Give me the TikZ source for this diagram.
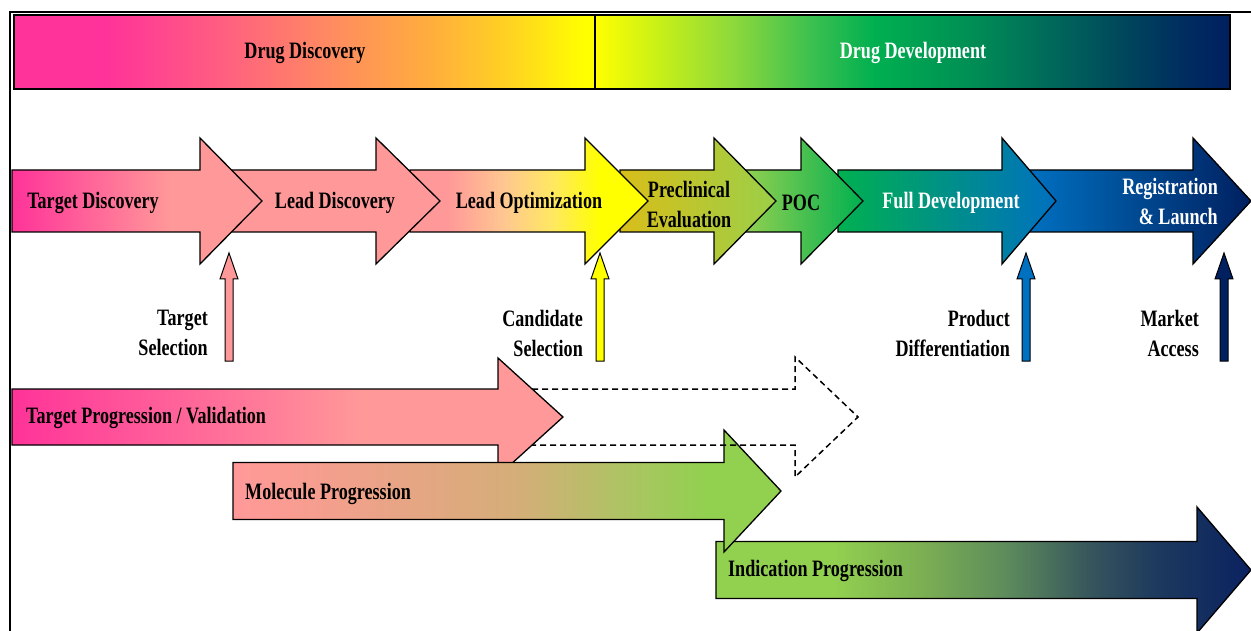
\documentclass[tikz,border=0pt]{standalone}
\usepackage{fontspec}
\setmainfont{Liberation Serif}[FakeStretch=0.77]
\usetikzlibrary{positioning}

\definecolor{hotpink}{HTML}{FF3399}
\definecolor{salmon}{HTML}{FF9999}
\definecolor{yell}{HTML}{FFFF00}
\definecolor{lgreen}{HTML}{92D050}
\definecolor{grn}{HTML}{00B050}
\definecolor{blu}{HTML}{0070C0}
\definecolor{navy}{HTML}{002060}
\definecolor{gold}{HTML}{D8BE1A}
\definecolor{ygreen}{HTML}{9BCF48}

\definecolor{d1}{HTML}{FF5F80}
\definecolor{d2}{HTML}{FF8A62}
\definecolor{d3}{HTML}{FFAE3C}
\definecolor{d4}{HTML}{FFD520}
\definecolor{e1}{HTML}{C8F018}
\definecolor{e2}{HTML}{8CD83C}
\definecolor{e3}{HTML}{3CC050}
\definecolor{e4}{HTML}{008C55}
\definecolor{e5}{HTML}{00685A}
\definecolor{e6}{HTML}{00445C}
\definecolor{e7}{HTML}{002A60}
\definecolor{o1}{HTML}{FFC890}
\definecolor{o2}{HTML}{FFE860}
\definecolor{m1}{HTML}{FA9C92}
\definecolor{m2}{HTML}{D4AE78}
\definecolor{m3}{HTML}{A8C660}
\definecolor{i1}{HTML}{7CB052}
\definecolor{i2}{HTML}{5E8C5C}
\definecolor{i3}{HTML}{36555C}
\definecolor{i4}{HTML}{1E3A5E}
\definecolor{i5}{HTML}{0A2260}

\pgfdeclarehorizontalshading{discovery}{100bp}{color(0bp)=(hotpink); color(25bp)=(hotpink);
  color(33bp)=(hotpink); color(43bp)=(d1); color(52bp)=(d2); color(61bp)=(d3);
  color(68bp)=(d4); color(74bp)=(yell); color(100bp)=(yell)}
\pgfdeclarehorizontalshading{development}{100bp}{color(0bp)=(yell); color(25bp)=(yell);
  color(30bp)=(e1); color(36bp)=(e2); color(42bp)=(e3); color(47bp)=(grn); color(55bp)=(e4);
  color(61bp)=(e5); color(67bp)=(e6); color(72bp)=(e7); color(75bp)=(navy); color(100bp)=(navy)}
\pgfdeclarehorizontalshading{pinksalmon}{100bp}{color(0bp)=(hotpink); color(25bp)=(hotpink);
  color(57bp)=(salmon); color(100bp)=(salmon)}
\pgfdeclarehorizontalshading{salmonyellow}{100bp}{color(0bp)=(salmon); color(33bp)=(salmon);
  color(45bp)=(o1); color(55bp)=(o2); color(65bp)=(yell); color(100bp)=(yell)}
\pgfdeclarehorizontalshading{molecule}{100bp}{color(0bp)=(salmon); color(25bp)=(salmon);
  color(30bp)=(m1); color(51bp)=(m2); color(62bp)=(m3); color(68bp)=(lgreen); color(100bp)=(lgreen)}
\pgfdeclarehorizontalshading{indication}{100bp}{color(0bp)=(lgreen); color(36bp)=(lgreen);
  color(44bp)=(i1); color(52bp)=(i2); color(60bp)=(i3); color(66bp)=(i4); color(75bp)=(i5);
  color(100bp)=(i5)}

% block arrow: [style]{x start}{head base}{tip}{y centre}{body half}{head half}
\newcommand{\blockarrow}[7][]{%
  \draw[blk,#1] (#2,{#5-#6}) -- (#3,{#5-#6}) -- (#3,{#5-#7}) -- (#4,#5)
    -- (#3,{#5+#7}) -- (#3,{#5+#6}) -- (#2,{#5+#6}) -- cycle;}
% thin upward milestone arrow: {colour}{x}
\newcommand{\milestone}[2]{%
  \draw[blk,line width=1pt,fill=#1] ({#2-4},361) -- ({#2-4},279) -- ({#2-9},279) -- (#2,253)
    -- ({#2+9},279) -- ({#2+4},279) -- ({#2+4},361) -- cycle;}

\begin{document}
\begin{tikzpicture}[x=1pt,y=-1pt,line join=miter]
	\tikzstyle{blk}=[draw=black,line width=1.3pt]
	\tikzstyle{lbl}=[inner sep=0pt,font=\fontsize{23.5}{30}\selectfont\bfseries]
	\useasboundingbox (0,0) rectangle (1251,631);

	% frame and phase bar
	\draw[line width=2pt] (10,631) -- (10,12) -- (1251,12);
	\draw[line width=2.5pt,shade,shading=discovery] (14,15) rectangle (595,89);
	\draw[line width=2.5pt,shade,shading=development] (595,15) rectangle (1230,89);
	\node[lbl] (disc) at (305,53) {Drug Discovery};
	\node[lbl,text=white] (dev) at (913,53) {Drug Development};

	% stages, right to left so each head lies on the next body
	\blockarrow[left color=blu,right color=navy]{1030}{1193}{1251}{201}{31}{63}
	\blockarrow[left color=grn,right color=blu]{838}{1002}{1056}{201}{31}{63}
	\blockarrow[left color=lgreen,right color=grn]{745}{801}{863}{201}{31}{63}
	\blockarrow[left color=gold,right color=ygreen]{620}{714}{776}{201}{31}{63}
	\blockarrow[shade,shading=salmonyellow]{410}{585}{648}{201}{31}{63}
	\blockarrow[fill=salmon]{232}{376}{440}{201}{31}{63}
	\blockarrow[shade,shading=pinksalmon]{12}{200}{262}{201}{31}{63}

	\node[lbl] (tdisc) at (93,203) {Target Discovery};
	\node[lbl] (ldisc) at (335,203) {Lead Discovery};
	\node[lbl] (lopt) at (529,203) {Lead Optimization};
	\node[lbl,align=center] (precl) at (689,204) {Preclinical\\Evaluation};
	\node[lbl] (poc) at (801,203) {POC};
	\node[lbl,text=white] (fdev) at (951,203) {Full Development};
	\node[lbl,text=white,align=right,anchor=east] (reg) at (1218,201) {Registration\\\& Launch};

	% milestones
	\milestone{salmon}{229}
	\milestone{yell}{600}
	\milestone{blu}{1026}
	\milestone{navy}{1224}
	\node[lbl,align=right,anchor=east] (tsel) at (208,333) {Target\\Selection};
	\node[lbl,align=right,anchor=east] (csel) at (583,333) {Candidate\\Selection};
	\node[lbl,align=right,anchor=east] (pdiff) at (1010,333) {Product\\Differentiation};
	\node[lbl,align=right,anchor=east] (macc) at (1199,333) {Market\\Access};

	% progressions
	\blockarrow[shade,shading=pinksalmon]{12}{498}{563}{417}{28}{59}
	\blockarrow[shade,shading=indication]{716}{1197}{1251}{570}{28.5}{63}
	\blockarrow[shade,shading=molecule]{233}{724}{781}{491}{28.5}{61}
	\draw[line width=1.5pt,dash pattern=on 6pt off 4pt] (532,389) -- (795,389) -- (795,357)
		-- (858,417) -- (795,477) -- (795,445) -- (532,445);

	\node[lbl,anchor=west] (tprog) at (26,418) {Target Progression / Validation};
	\node[lbl,anchor=west] (mprog) at (245,494) {Molecule Progression};
	\node[lbl,anchor=west] (iprog) at (728,571) {Indication Progression};
\end{tikzpicture}
\end{document}
